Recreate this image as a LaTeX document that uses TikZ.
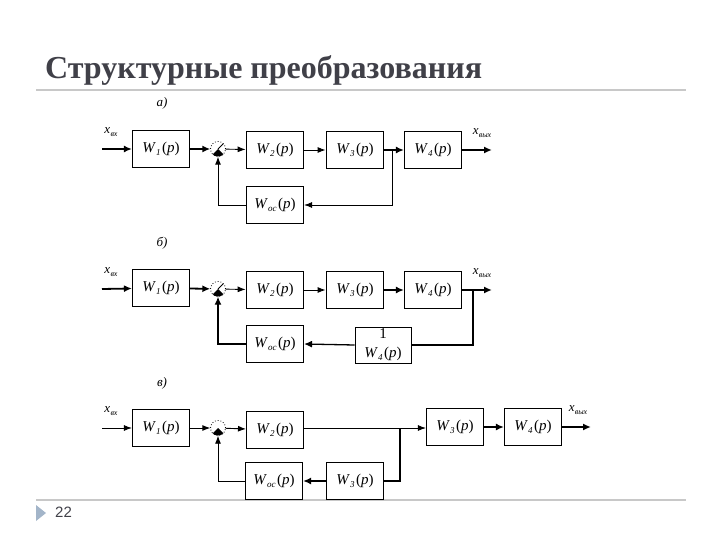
\documentclass[tikz,border=0pt]{standalone}
\usepackage{fontspec}
\setmainfont{Liberation Serif}
\newfontfamily\slidesans{Liberation Sans}
\newfontfamily\titlefont{Liberation Serif}
\usetikzlibrary{arrows.meta}
\definecolor{titlec}{HTML}{404048}
\definecolor{rulec}{HTML}{C8C8C8}
\definecolor{tric}{HTML}{A3B5C9}
\newcommand\cyrsub[1]{\raisebox{-0.4ex}{\fontsize{8}{8}\selectfont\itshape #1}}
\newcommand\Wp[1]{\textit{W}\kern0.3pt\raisebox{-0.45ex}{\fontsize{9}{9}\selectfont\itshape #1}\kern1.5pt(\textit{p})}
\newcommand\xs[1]{\textit{x}\kern0.3pt\cyrsub{#1}}
\tikzset{
  blk/.style={draw, line width=1.1pt, minimum width=57pt, minimum height=37pt, inner sep=0pt, font=\fontsize{15}{17}\selectfont},
  thk/.style={line width=1.8pt},
  sumj/.style={circle, minimum size=15pt, inner sep=0pt},
  arr/.style={line width=0.9pt, -{Latex[length=8pt,width=6pt]}},
  tarr/.style={line width=1.8pt, -{Latex[length=8pt,width=7pt]}},
  lbl/.style={font=\fontsize{13}{13}\selectfont\itshape, inner sep=0pt},
  sig/.style={font=\fontsize{13}{13}\selectfont, inner sep=0pt},
}
\newcommand\sumdraw[2]{%
  \draw[dotted, line width=0.8pt] (#1.center) circle (7.5pt);
  \fill (#1.center) -- ++(225:7.5pt) arc (225:315:7.5pt) -- cycle;
  \ifx#2y\draw[line width=0.8pt] (#1.center) -- ++(45:7.5pt);\fi
}
\begin{document}
\begin{tikzpicture}[x=1pt,y=-1pt]
\useasboundingbox (0,0) rectangle (720,540);
% title and rules
\node[anchor=base west, font=\titlefont\fontsize{32}{32}\selectfont\bfseries, text=titlec, inner sep=0pt] (title) at (45,79) {Структурные преобразования};
\draw[rulec, line width=2pt] (36,90) -- (686,90);
\draw[rulec, line width=2pt] (36,500) -- (686,500);
\fill[tric] (36,505) -- (46,513) -- (36,521) -- cycle;
\node[anchor=west, font=\slidesans\fontsize{15}{15}\selectfont, text=titlec, inner sep=0pt] (pg) at (55,512) {22};

% ---------- a)
\node[lbl] (la) at (162,103) {а)};
\node[blk] (a1) at (161,149) {\Wp{1}};
\node[sumj] (as) at (218,149) {};
\node[blk, thk] (a2) at (275,150) {\Wp{2}};
\node[blk, thk] (a3) at (355,150) {\Wp{3}};
\node[blk] (a4) at (433,150) {\Wp{4}};
\node[blk] (aoc) at (275,205) {\Wp{ос}};
\coordinate (ain) at (102,149);
\coordinate (aout) at (492,150);
\coordinate (ab) at (392,150);
\node[sig] (axin) at (111,132) {\xs{вх}};
\node[sig] (axout) at (482,133) {\xs{вых}};
\sumdraw{as}{y}
\draw[tarr] (ain) -- (a1);
\draw[tarr] (a1) -- (as);
\draw[arr] (as) -- (a2);
\draw[arr] (a2) -- (a3);
\draw[tarr] (a3) -- (a4);
\draw[tarr] (a4) -- (aout);
\draw[arr] (ab) |- (aoc.east);
\draw[arr] (aoc.west) -| (as.south);

% ---------- b)
\node[lbl] (lb) at (162,243) {б)};
\node[blk] (b1) at (161,288) {\Wp{1}};
\node[sumj] (bs) at (218,289) {};
\node[blk, thk] (b2) at (275,290) {\Wp{2}};
\node[blk, thk] (b3) at (355,290) {\Wp{3}};
\node[blk] (b4) at (433,290) {\Wp{4}};
\node[blk] (boc) at (275,344) {\Wp{ос}};
\node[blk, line width=0.9pt, align=center, minimum width=56pt, minimum height=36pt] (binv) at (383,345) {1\\[2pt]\Wp{4}};
\coordinate (bin) at (102,289);
\coordinate (bout) at (492,290);
\coordinate (bb) at (473,290);
\node[sig] (bxin) at (111,272) {\xs{вх}};
\node[sig] (bxout) at (482,273) {\xs{вых}};
\sumdraw{bs}{y}
\draw[tarr] (bin) -- (b1);
\draw[tarr] (b1) -- (bs);
\draw[arr] (bs) -- (b2);
\draw[arr] (b2) -- (b3);
\draw[tarr] (b3) -- (b4);
\draw[tarr] (b4) -- (bout);
\draw[thk] (bb) |- (binv.east);
\draw[tarr, line width=1.3pt] (binv.west) -- (boc.east);
\draw[tarr, line width=1.3pt] (boc.west) -| (bs.south);

% ---------- c)
\node[lbl] (lc) at (162,383) {в)};
\node[blk] (c1) at (161,428) {\Wp{1}};
\node[sumj] (cs) at (218,428) {};
\node[blk] (c2) at (275,430) {\Wp{2}};
\node[blk] (c3) at (455,427) {\Wp{3}};
\node[blk] (c4) at (533,427) {\Wp{4}};
\node[blk] (coc) at (274,481) {\Wp{ос}};
\node[blk] (c3b) at (355,481) {\Wp{3}};
\coordinate (cin) at (102,428);
\coordinate (cout) at (591,427);
\coordinate (cb) at (400,428);
\node[sig] (cxin) at (111,411) {\xs{вх}};
\node[sig] (cxout) at (578,410) {\xs{вых}};
\sumdraw{cs}{n}
\draw[arr] (cin) -- (c1);
\draw[arr] (c1) -- (cs);
\draw[arr] (cs) -- (c2);
\draw[arr] (c2.east |- cb) -- (c3.west |- cb);
\draw[tarr] (c3) -- (c4);
\draw[tarr] (c4) -- (cout);
\draw[thk] (cb) |- (c3b.east);
\draw[tarr] (c3b.west) -- (coc.east);
\draw[arr] (coc.west) -| (cs.south);
\end{tikzpicture}
\end{document}
